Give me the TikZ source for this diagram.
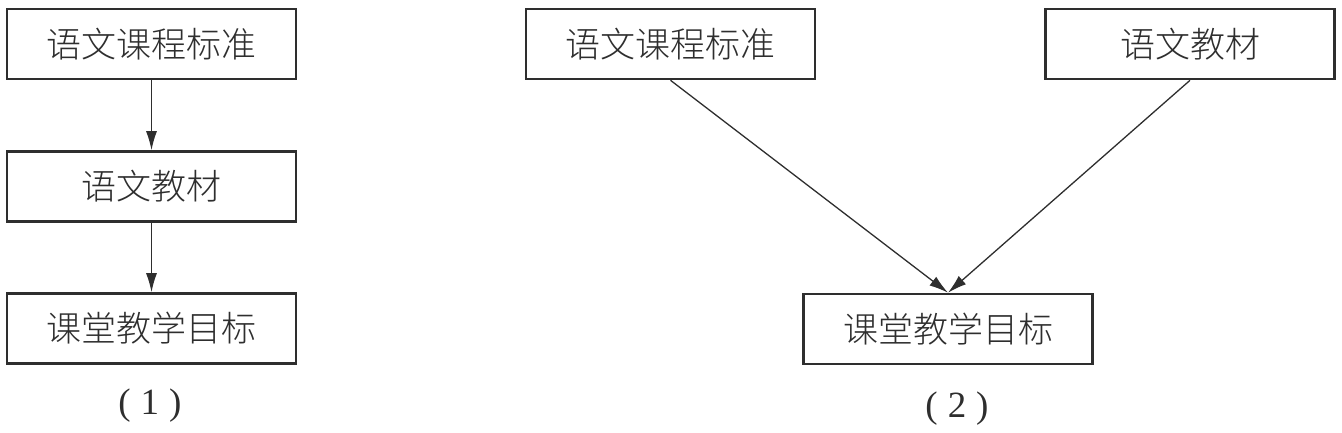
\documentclass[tikz,border=0pt]{standalone}
\usepackage{fontspec}
\newfontfamily\cjk{Noto Sans CJK SC Light}
\newfontfamily\serifnum{Liberation Serif}
\usetikzlibrary{arrows.meta}
\definecolor{ink}{HTML}{2E2E2E}
\tikzset{
  box/.style={draw=ink, line width=2.6bp, minimum width=289bp, minimum height=70bp, inner sep=0pt, text=ink, font=\cjk\fontsize{35bp}{38bp}\selectfont},
  conn/.style={draw=ink, line width=1.3bp, -{Latex[length=19bp,width=11bp]}},
  figlabel/.style={text=ink, font=\serifnum\fontsize{37bp}{40bp}\selectfont, inner sep=0pt}
}
\begin{document}
\begin{tikzpicture}[x=1bp,y=-1bp]
\useasboundingbox (0,0) rectangle (1342,432);
\node[box] (l1) at (151.5,44) {语文课程标准};
\node[box] (l2) at (151.5,186.5) {语文教材};
\node[box] (l3) at (151.5,328.5) {课堂教学目标};
\node[figlabel] (c1) at (150,406) {(\hspace{10bp}1\hspace{10bp})};
\draw[conn] (l1) -- (l2);
\draw[conn] (l2) -- (l3);
\node[box] (ra) at (670.5,44) {语文课程标准};
\node[box] (rb) at (1190,44) {语文教材};
\node[box] (rc) at (948,329) {课堂教学目标};
\node[figlabel] (c2) at (957,409) {(\hspace{10bp}2\hspace{10bp})};
\draw[conn] (ra.south) -- (rc.north);
\draw[conn] (rb.south) -- (rc.north);
\end{tikzpicture}
\end{document}
